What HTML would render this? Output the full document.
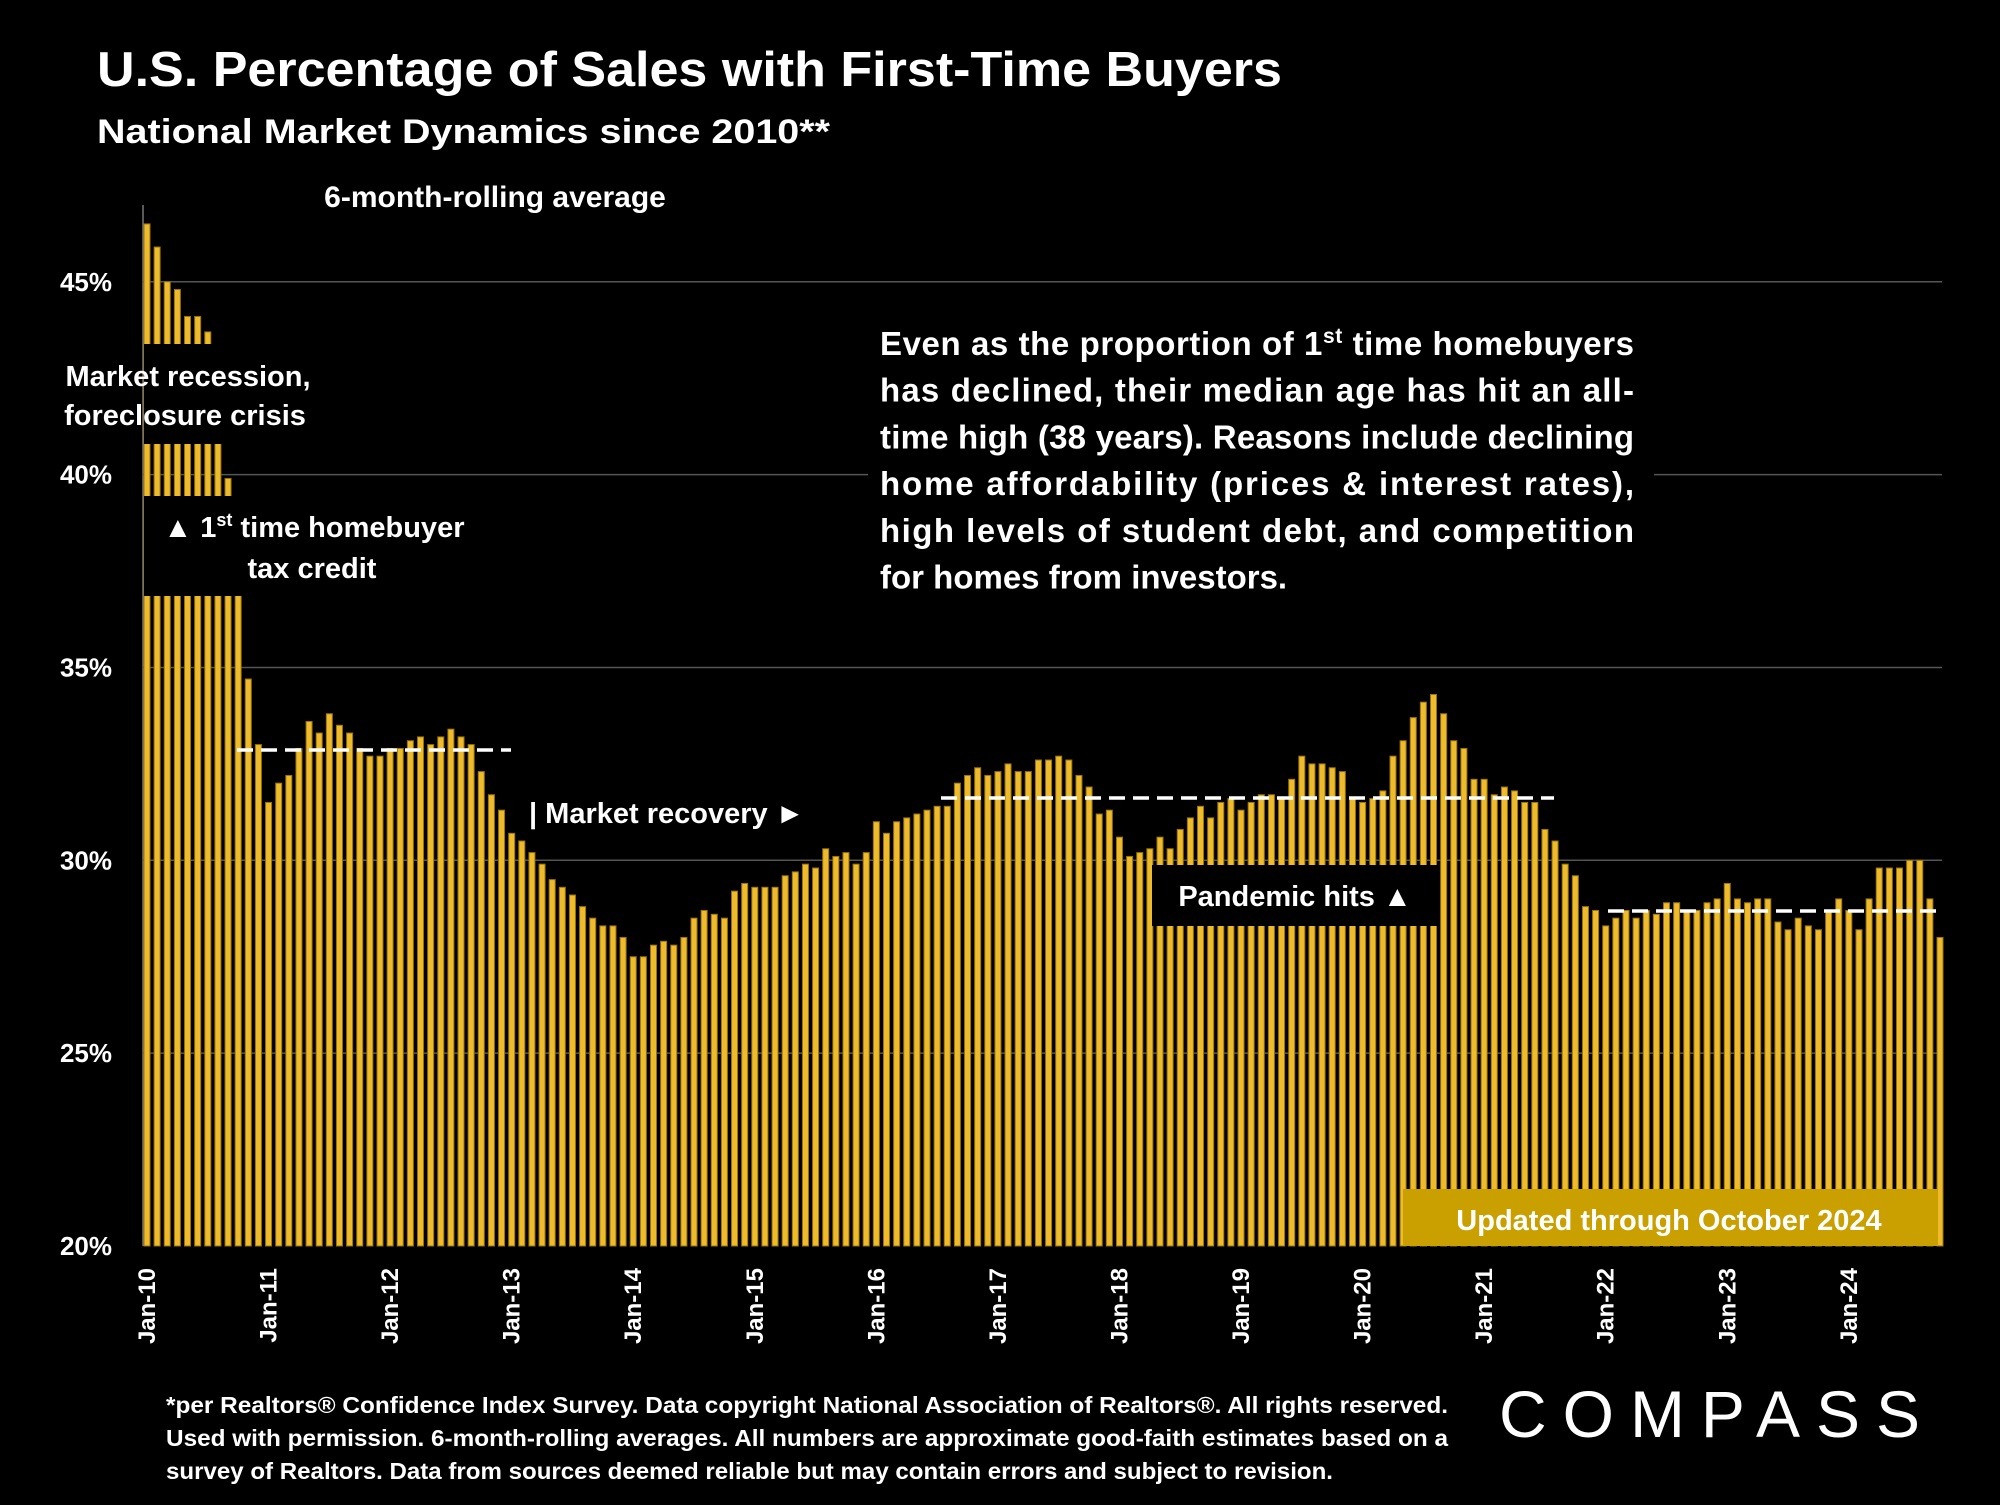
<!DOCTYPE html>
<html><head><meta charset="utf-8"><style>
html,body{margin:0;padding:0;background:#000;}
svg text{font-family:"Liberation Sans",sans-serif;}
</style></head><body>
<svg id="chart" width="2000" height="1500" viewBox="0 0 2000 1500" xmlns="http://www.w3.org/2000/svg">
<rect width="2000" height="1500" fill="#000"/>
<text x="97" y="86" fill="#fff" font-size="49" font-weight="bold" textLength="1185" lengthAdjust="spacingAndGlyphs">U.S. Percentage of Sales with First-Time Buyers</text>
<text x="97" y="143" fill="#fff" font-size="34" font-weight="bold" textLength="733" lengthAdjust="spacingAndGlyphs">National Market Dynamics since 2010**</text>
<text x="495" y="207" fill="#fff" font-size="30" font-weight="bold" text-anchor="middle">6-month-rolling average</text>
<g id="grid"></g><g id="bars"></g><g id="overlays"></g><g id="xlabels"></g>
<text fill="#fff" font-size="23" font-weight="bold"><tspan x="166" y="1413" textLength="1282" lengthAdjust="spacingAndGlyphs">*per Realtors® Confidence Index Survey. Data copyright National Association of Realtors®. All rights reserved.</tspan><tspan x="166" y="1446" textLength="1282" lengthAdjust="spacingAndGlyphs">Used with permission. 6-month-rolling averages. All numbers are approximate good-faith estimates based on a</tspan><tspan x="166" y="1479" textLength="1167" lengthAdjust="spacingAndGlyphs">survey of Realtors. Data from sources deemed reliable but may contain errors and subject to revision.</tspan></text>
<text x="1499" y="1437" fill="#fff" font-size="66" textLength="421" lengthAdjust="spacing">COMPASS</text>
</svg>
<script>
const startYear = 2010;
const tickLabels = ["Jan-10","Jan-11","Jan-12","Jan-13","Jan-14","Jan-15","Jan-16","Jan-17","Jan-18","Jan-19","Jan-20","Jan-21","Jan-22","Jan-23","Jan-24"];
const yTicks = [20,25,30,35,40,45];
const values2010_2012 = [46.5,45.9,45.0,44.8,44.1,44.1,43.7,42.8,39.9,38.0,34.7,33.0,
 31.5,32.0,32.2,32.9,33.6,33.3,33.8,33.5,33.3,32.9,32.7,32.7,
 32.9,32.9,33.1,33.2,33.0,33.2,33.4,33.2,33.0,32.3,31.7,31.3];
const values2013_2016 = [30.7,30.5,30.2,29.9,29.5,29.3,29.1,28.8,28.5,28.3,28.3,28.0,
 27.5,27.5,27.8,27.9,27.8,28.0,28.5,28.7,28.6,28.5,29.2,29.4,
 29.3,29.3,29.3,29.6,29.7,29.9,29.8,30.3,30.1,30.2,29.9,30.2,
 31.0,30.7,31.0,31.1,31.2,31.3,31.4,31.4,32.0,32.2,32.4,32.2];
const values2017_2020 = [32.3,32.5,32.3,32.3,32.6,32.6,32.7,32.6,32.2,31.9,31.2,31.3,
 30.6,30.1,30.2,30.3,30.6,30.3,30.8,31.1,31.4,31.1,31.5,31.6,
 31.3,31.5,31.7,31.7,31.6,32.1,32.7,32.5,32.5,32.4,32.3,31.6,
 31.5,31.6,31.8,32.7,33.1,33.7,34.1,34.3,33.8,33.1,32.9,32.1];
const values2021_2024 = [32.1,31.7,31.9,31.8,31.5,31.5,30.8,30.5,29.9,29.6,28.8,28.7,
 28.3,28.5,28.7,28.5,28.7,28.6,28.9,28.9,28.7,28.7,28.9,29.0,
 29.4,29.0,28.9,29.0,29.0,28.4,28.2,28.5,28.3,28.2,28.7,29.0,
 28.7,28.2,29.0,29.8,29.8,29.8,30.0,30.0,29.0,28.0];
const values = values2010_2012.concat(values2013_2016, values2017_2020, values2021_2024);

const NS = "http://www.w3.org/2000/svg";
const plotL = 143, plotR = 1942, pitch = 10.13, x0 = 147;
const yScale = v => 1246 - (v - 20) * 38.57;
const xScale = i => x0 + i * pitch;
function mk(tag, attrs, parent){ const e=document.createElementNS(NS,tag); for(const k in attrs) e.setAttribute(k,attrs[k]); parent.appendChild(e); return e; }

const grid = document.getElementById('grid');
const ax = mk('line',{x1:plotL,x2:plotL,y1:205,y2:1246,stroke:'#777','stroke-width':1.5},grid);


yTicks.forEach(t=>{
  const y = yScale(t);
  if(t>20){ const g = mk('line',{x1:plotL,x2:plotR,y1:y,y2:y,stroke:'#555','stroke-width':1.5},grid);
    
     }
  const lb = mk('text',{x:112,y:y+9,fill:'#fff','font-size':26,'font-weight':'bold','text-anchor':'end'},grid);
  lb.textContent = t+'%';
  
  
});

const bars = document.getElementById('bars');
values.forEach((v,i)=>{
  const y = yScale(v);
  const r = mk('rect',{x:xScale(i)-3,y:y,width:6,height:1246-y,fill:'#edbb2c',stroke:'#9a7208','stroke-width':1},bars);
  
  
});

const xl = document.getElementById('xlabels');
tickLabels.forEach((t,k)=>{
  const x = xScale(k*12)+8;
  const tx = mk('text',{x:0,y:0,fill:'#fff','font-size':24,'font-weight':'bold','text-anchor':'end',transform:`translate(${x},1268) rotate(-90)`},xl);
  tx.textContent = t;
  
  
});

const ov = document.getElementById('overlays');
function box(x,y,w,h,fill,name){ const b=mk('rect',{x:x,y:y,width:w,height:h,fill:fill},ov);
  
   }
function txt(x,y,s,size,anchor,name){ const t=mk('text',{x:x,y:y,fill:'#fff','font-size':size,'font-weight':'bold','text-anchor':anchor},ov); t.innerHTML=s;
  
   return t; }
box(144,344,300,100,'#000','recession-box');
txt(188,386,'Market recession,',29,'middle','recession-label');
txt(185,425,'foreclosure crisis',29,'middle','recession-label-2');
box(144,496,340,100,'#000','tax-credit-box');
txt(314,537,'▲ 1<tspan font-size="18" dy="-11">st</tspan><tspan dy="11"> time homebuyer</tspan>',29,'middle','tax-credit-label');
txt(312,578,'tax credit',29,'middle','tax-credit-label-2');
box(868,318,786,282,'#000','commentary-box');
const para = [
 ['Even as the proportion of 1<tspan font-size="21" dy="-12">st</tspan><tspan dy="12"> time homebuyers</tspan>',true],
 ['has declined, their median age has hit an all-',true],
 ['time high (38 years). Reasons include declining',true],
 ['home affordability (prices &amp; interest rates),',true],
 ['high levels of student debt, and competition',true],
 ['for homes from investors.',false]];
para.forEach((p,k)=>{
  const t = txt(880,355+k*46.7,p[0],33,'start','commentary-line');
  if(p[1]){ t.setAttribute('textLength',754); t.setAttribute('lengthAdjust','spacing'); }
});
txt(529,823,'| Market recovery ►',29,'start','market-recovery-label');
box(1152,865,287,61,'#000','pandemic-box');
txt(1295,906,'Pandemic hits ▲',29,'middle','pandemic-label');
box(1403,1189,535,57,'#c9a000','updated-box');
txt(1669,1230,'Updated through October 2024',29,'middle','updated-label');
[[237,511,750],[941,1554,798],[1608,1938,911]].forEach(d=>{
  const l = mk('line',{x1:d[0],x2:d[1],y1:d[2],y2:d[2],stroke:'#fff','stroke-width':3.5,'stroke-dasharray':'16 8'},ov);
  
  
});
</script>
</body></html>
